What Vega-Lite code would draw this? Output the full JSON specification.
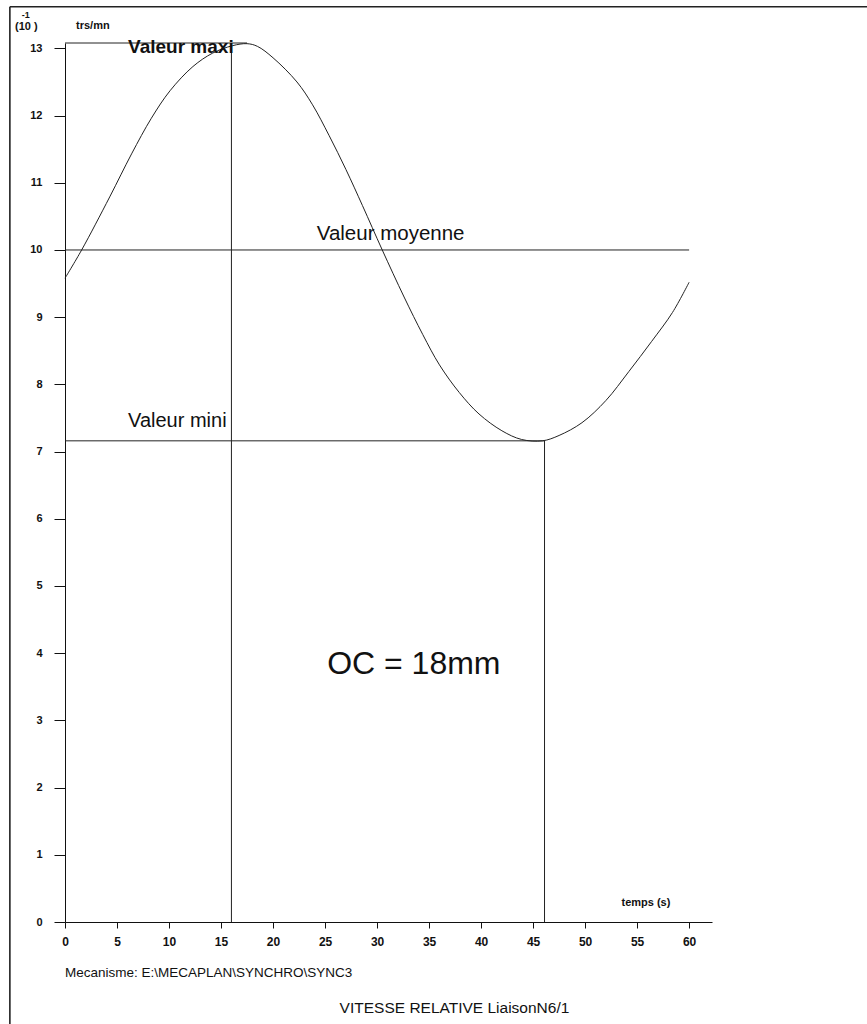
{
  "$schema": "https://vega.github.io/schema/vega-lite/v6.json",
  "width": 647,
  "height": 879,
  "autosize": {"type": "none"},
  "padding": {"left": 65, "top": 43, "right": 155, "bottom": 102},
  "background": "white",
  "config": {
    "view": {"stroke": null},
    "font": "Liberation Sans",
    "axis": {
      "grid": false,
      "title": null,
      "labelFont": "Liberation Sans",
      "labelFontWeight": "bold",
      "labelColor": "#111",
      "domainColor": "#111",
      "tickColor": "#111",
      "domainWidth": 1,
      "tickWidth": 1
    }
  },
  "datasets": {
    "curve": [
      {"t": 0, "v": 9.58}, {"t": 1.6, "v": 10.0}, {"t": 4.3, "v": 10.79},
      {"t": 6.4, "v": 11.43}, {"t": 8.3, "v": 11.96}, {"t": 10.1, "v": 12.37},
      {"t": 12.3, "v": 12.73}, {"t": 14.2, "v": 12.93}, {"t": 16.1, "v": 13.04},
      {"t": 17.5, "v": 13.07}, {"t": 18.5, "v": 13.03}, {"t": 20.0, "v": 12.86},
      {"t": 22.3, "v": 12.50}, {"t": 23.8, "v": 12.16}, {"t": 25.4, "v": 11.70},
      {"t": 27.0, "v": 11.20}, {"t": 28.6, "v": 10.66}, {"t": 30.5, "v": 10.0},
      {"t": 32.6, "v": 9.30}, {"t": 34.4, "v": 8.74}, {"t": 36.0, "v": 8.29},
      {"t": 37.9, "v": 7.88}, {"t": 39.8, "v": 7.56}, {"t": 42.0, "v": 7.31},
      {"t": 43.9, "v": 7.18}, {"t": 45.9, "v": 7.16}, {"t": 47.5, "v": 7.24},
      {"t": 49.7, "v": 7.43}, {"t": 52.0, "v": 7.76}, {"t": 54.2, "v": 8.19},
      {"t": 56.4, "v": 8.64}, {"t": 58.4, "v": 9.07}, {"t": 60.0, "v": 9.52}
    ],
    "refs": [
      {"name": "maxi", "t": 0, "t2": 17.5, "v": 13.08, "v2": 13.08},
      {"name": "moyenne", "t": 0, "t2": 60, "v": 10.0, "v2": 10.0},
      {"name": "mini", "t": 0, "t2": 46.1, "v": 7.16, "v2": 7.16},
      {"name": "t_maxi", "t": 16.0, "t2": 16.0, "v": 0, "v2": 13.08},
      {"name": "t_mini", "t": 46.1, "t2": 46.1, "v": 0, "v2": 7.16}
    ],
    "frame": [
      {"t": -5.3, "t2": -5.3, "v": -1.55, "v2": 13.62},
      {"t": -5.3, "t2": 77.2, "v": 13.62, "v2": 13.62}
    ],
    "t_maxi": [{"t": 6.06, "v": 12.93, "label": "Valeur maxi"}],
    "t_moy": [{"t": 24.2, "v": 10.15, "label": "Valeur moyenne"}],
    "t_mini": [{"t": 6.06, "v": 7.36, "label": "Valeur mini"}],
    "t_oc": [{"t": 25.2, "v": 3.69, "label": "OC = 18mm"}],
    "t_temps": [{"t": 53.5, "v": 0.24, "label": "temps (s)"}],
    "t_unit": [{"t": 1.06, "v": 13.29, "label": "trs/mn"}],
    "t_scale": [{"t": -4.8, "v": 13.27, "label": "(10 )"}],
    "t_exp": [{"t": -4.15, "v": 13.45, "label": "-1"}],
    "t_meca": [{"t": 0, "v": -0.82, "label": "Mecanisme: E:\\MECAPLAN\\SYNCHRO\\SYNC3"}],
    "t_title": [{"t": 26.4, "v": -1.354, "label": "VITESSE RELATIVE  LiaisonN6/1"}]
  },
  "encoding": {
    "x": {
      "field": "t", "type": "quantitative",
      "scale": {"domain": [0, 62.2], "nice": false, "zero": false},
      "axis": {
        "values": [0, 5, 10, 15, 20, 25, 30, 35, 40, 45, 50, 55, 60],
        "tickSize": 6, "labelPadding": 8, "labelFontSize": 12, "labelFlush": false
      }
    },
    "y": {
      "field": "v", "type": "quantitative",
      "scale": {"domain": [0, 13.08], "nice": false},
      "axis": {
        "values": [0, 1, 2, 3, 4, 5, 6, 7, 8, 9, 10, 11, 12, 13],
        "tickSize": 11, "labelPadding": 12, "labelFontSize": 11, "labelFlush": false
      }
    }
  },
  "layer": [
    {
      "data": {"name": "frame"},
      "mark": {"type": "rule", "color": "#222", "strokeWidth": 1.6},
      "encoding": {"x2": {"field": "t2"}, "y2": {"field": "v2"}}
    },
    {
      "data": {"name": "refs"},
      "mark": {"type": "rule", "color": "#222", "strokeWidth": 1},
      "encoding": {"x2": {"field": "t2"}, "y2": {"field": "v2"}}
    },
    {
      "data": {"name": "curve"},
      "mark": {"type": "line", "color": "#222", "strokeWidth": 1, "interpolate": "catmull-rom"},
      "encoding": {}
    },
    {
      "data": {"name": "t_maxi"},
      "mark": {"type": "text", "align": "left", "baseline": "alphabetic", "fontSize": 19, "fontWeight": "bold", "color": "#111"},
      "encoding": {"text": {"field": "label"}}
    },
    {
      "data": {"name": "t_moy"},
      "mark": {"type": "text", "align": "left", "baseline": "alphabetic", "fontSize": 20.5, "color": "#111"},
      "encoding": {"text": {"field": "label"}}
    },
    {
      "data": {"name": "t_mini"},
      "mark": {"type": "text", "align": "left", "baseline": "alphabetic", "fontSize": 20, "color": "#111"},
      "encoding": {"text": {"field": "label"}}
    },
    {
      "data": {"name": "t_oc"},
      "mark": {"type": "text", "align": "left", "baseline": "alphabetic", "fontSize": 32, "color": "#111"},
      "encoding": {"text": {"field": "label"}}
    },
    {
      "data": {"name": "t_temps"},
      "mark": {"type": "text", "align": "left", "baseline": "alphabetic", "fontSize": 11, "fontWeight": "bold", "color": "#111"},
      "encoding": {"text": {"field": "label"}}
    },
    {
      "data": {"name": "t_unit"},
      "mark": {"type": "text", "align": "left", "baseline": "alphabetic", "fontSize": 11, "fontWeight": "bold", "color": "#111"},
      "encoding": {"text": {"field": "label"}}
    },
    {
      "data": {"name": "t_scale"},
      "mark": {"type": "text", "align": "left", "baseline": "alphabetic", "fontSize": 11, "fontWeight": "bold", "color": "#111"},
      "encoding": {"text": {"field": "label"}}
    },
    {
      "data": {"name": "t_exp"},
      "mark": {"type": "text", "align": "left", "baseline": "alphabetic", "fontSize": 9, "fontWeight": "bold", "color": "#111"},
      "encoding": {"text": {"field": "label"}}
    },
    {
      "data": {"name": "t_meca"},
      "mark": {"type": "text", "align": "left", "baseline": "alphabetic", "fontSize": 13.5, "color": "#111"},
      "encoding": {"text": {"field": "label"}}
    },
    {
      "data": {"name": "t_title"},
      "mark": {"type": "text", "align": "left", "baseline": "alphabetic", "fontSize": 15.5, "color": "#111"},
      "encoding": {"text": {"field": "label"}}
    }
  ]
}
